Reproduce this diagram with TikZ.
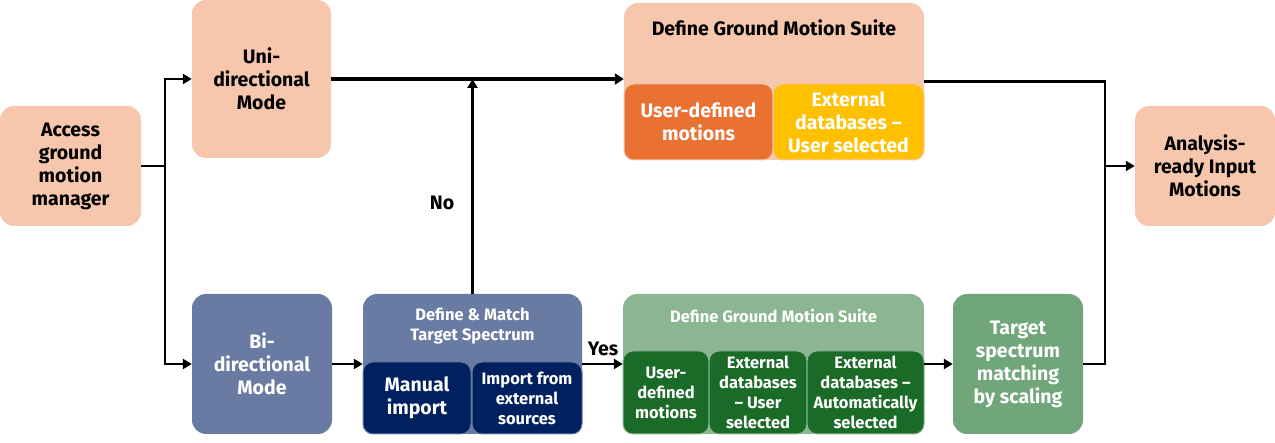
\documentclass[tikz,border=0pt]{standalone}
\usepackage{fontspec}
\setmainfont{Fira Sans}
\usetikzlibrary{arrows.meta}
\definecolor{peach}{HTML}{F6C6AD}
\definecolor{orng}{HTML}{E97132}
\definecolor{yell}{HTML}{FFC000}
\definecolor{bgray}{HTML}{6A7BA3}
\definecolor{navy}{HTML}{002060}
\definecolor{gout}{HTML}{8CB591}
\definecolor{gin}{HTML}{1B6B28}
\definecolor{gtsm}{HTML}{70A67A}
\begin{document}
\begin{tikzpicture}[x=1pt,y=-1pt,
  box/.style={rounded corners=14pt, inner sep=0pt, align=center},
  sub/.style={rounded corners=10pt, inner sep=0pt, align=center, text=white},
  fbig/.style={font=\bfseries\fontsize{19.5}{23}\selectfont},
  fmid/.style={font=\bfseries\fontsize{19.5}{23}\selectfont},
  fsml/.style={font=\bfseries\fontsize{16.5}{20}\selectfont},
  ln/.style={line width=2.6pt, line join=miter},
  arr/.style={line width=2.6pt, line join=miter, -{Triangle[length=9pt,width=10pt]}},
  arrT/.style={line width=3.4pt, -{Triangle[length=9pt,width=11pt]}}]
\useasboundingbox (0,0) rectangle (1275,443);

% left peach
\node[box, fbig, fill=peach, minimum width=141pt, minimum height=120pt] (acc) at (70.5,166) {Access\\ground\\motion\\manager};
\node[box, fbig, fill=peach, minimum width=139pt, minimum height=158pt] (uni) at (261.5,79) {Uni-\\directional\\Mode};
\node[box, fbig, fill=bgray, text=white, minimum width=140pt, minimum height=140pt] (bi) at (262,364) {Bi-\\directional\\Mode};

% define & match
\node[box, fill=bgray, minimum width=219pt, minimum height=140pt] (dm) at (472.5,364) {};
\node[fsml, text=white, align=center, inner sep=0pt] (dmt) at (472.5,326) {Define \& Match\\Target Spectrum};
\node[sub, fbig, fill=navy, draw=bgray, line width=1pt, minimum width=108pt, minimum height=72pt] (man) at (417,398) {Manual\\import};
\node[sub, fsml, fill=navy, draw=bgray, line width=1pt, minimum width=110pt, minimum height=72pt] (imp) at (527,398) {Import from\\external\\sources};

% top ground motion suite
\node[box, fill=peach, minimum width=300pt, minimum height=157pt] (tgms) at (774,81.5) {};
\node[fmid, inner sep=0pt] (tgt) at (774,28) {Define Ground Motion Suite};
\node[sub, fbig, fill=orng, draw=peach, line width=1pt, minimum width=149pt, minimum height=76pt] (udm) at (698.5,122) {User-defined\\motions};
\node[sub, fbig, fill=yell, draw=peach, line width=1pt, minimum width=151pt, minimum height=76pt] (ext) at (848.5,122) {External\\databases --\\User selected};

% bottom ground motion suite
\node[box, fill=gout, minimum width=301pt, minimum height=140pt] (bgms) at (773.5,364) {};
\node[fsml, text=white, inner sep=0pt] (bgt) at (773.5,316) {Define Ground Motion Suite};
\node[sub, fsml, fill=gin, draw=gout, line width=1pt, minimum width=86pt, minimum height=83pt] (g1) at (666,392.5) {User-\\defined\\motions};
\node[sub, fsml, fill=gin, draw=gout, line width=1pt, minimum width=98pt, minimum height=83pt] (g2) at (758,392.5) {External\\databases\\-- User\\selected};
\node[sub, fsml, fill=gin, draw=gout, line width=1pt, minimum width=117pt, minimum height=83pt] (g3) at (865.5,392.5) {External\\databases --\\Automatically\\selected};

% target spectrum matching
\node[box, fbig, fill=gtsm, text=white, minimum width=130pt, minimum height=140pt] (tsm) at (1018,364) {Target\\spectrum\\matching\\by scaling};
% analysis ready
\node[box, fbig, fill=peach, minimum width=140pt, minimum height=120pt] (ana) at (1205,166) {Analysis-\\ready Input\\Motions};

% labels
\node[fbig, inner sep=0pt] (no) at (442,203) {No};
\node[fbig, inner sep=0pt] (yes) at (603,349) {Yes};

% connectors
\coordinate (j1) at (165,166);
\coordinate (j2) at (1105,166);
\draw[ln] (acc.east) -- (j1);
\draw[arr] (j1) |- (uni.west);
\draw[arr] (j1) |- (bi.west);
\draw[arrT] (uni.east) -- (uni.east -| tgms.west);
\draw[arr] (dm.north) -- (dm.north |- uni.east);
\draw[arr] (bi.east) -- (dm.west);
\draw[arr] (dm.east) -- (bgms.west);
\draw[arr] (bgms.east) -- (tsm.west);
\draw[ln] (tgms.east) -| (j2);
\draw[ln] (tsm.east) -| (j2);
\draw[arr] (j2) -- (ana.west);
\end{tikzpicture}
\end{document}
